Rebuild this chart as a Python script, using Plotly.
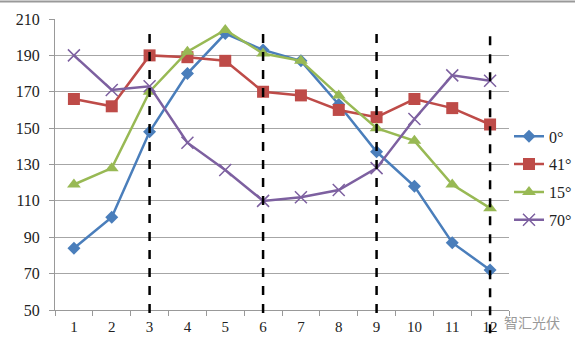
import plotly.graph_objects as go

months = [1, 2, 3, 4, 5, 6, 7, 8, 9, 10, 11, 12]
s0 = [84, 101, 148, 180, 202, 193, 187, 163, 137, 118, 87, 72]
s41 = [166, 162, 190, 189, 187, 170, 168, 160, 156, 166, 161, 152]
s15 = [119, 128, 170, 192, 204, 191, 187, 168, 150, 143, 119, 106]
s70 = [190, 171, 173, 142, 127, 110, 112, 116, 128, 155, 179, 176]
names = ["0°", "41°", "15°", "70°"]
dashed_months = [3, 6, 9, 12]

serif = "Liberation Serif, Times New Roman, serif"

fig = go.Figure()
series = [
    (s0, names[0], "#4A7EBB", dict(symbol="diamond", size=10)),
    (s41, names[1], "#BE4B48", dict(symbol="square", size=12)),
    (s15, names[2], "#98B954", dict(symbol="triangle-up", size=12)),
    (s70, names[3], "#7D60A0", dict(symbol="x-thin-open", size=12, line=dict(width=1.5, color="#7D60A0"))),
]
for i, (vals, nm, col, mk) in enumerate(series):
    mk = dict(mk)
    mk["color"] = col
    fig.add_trace(go.Scatter(x=months, y=vals, name=nm, mode="lines+markers",
                             line=dict(color=col, width=2.5), marker=mk,
                             legendgroup=str(i)))

for m in dashed_months:
    fig.add_shape(type="line", xref="x", yref="paper", x0=m, x1=m,
                  y0=-0.01 if m != 12 else -0.08, y1=0.96,
                  line=dict(color="black", width=2.5, dash="dash"))

fig.add_shape(type="line", xref="paper", yref="paper", x0=-0.2, x1=1.2,
              y0=1.06, y1=1.06, line=dict(color="#999", width=2))

fig.add_annotation(text="智汇光伏", xref="paper", yref="paper", x=1.05, y=-0.04,
                   xanchor="center", yanchor="middle",
                   showarrow=False, font=dict(family="Noto Sans CJK SC", size=14, color="#999"))

fig.update_layout(
    width=575, height=353,
    margin=dict(l=55, r=66, t=19, b=43, autoexpand=False),
    paper_bgcolor="white", plot_bgcolor="white",
    font=dict(family=serif, size=15, color="#222"),
    showlegend=True,
    legend=dict(x=1.0, xanchor="left", y=0.655, yanchor="top",
                font=dict(family=serif, size=16), tracegroupgap=4,
                itemwidth=30, bgcolor="rgba(0,0,0,0)"),
    xaxis=dict(range=[0.5, 12.5], tickvals=months, ticks="", showgrid=False,
               showline=True, linecolor="#999", linewidth=1, zeroline=False,
               ticklabelstandoff=3,
               tickfont=dict(family=serif, size=15),
               minor=dict(tickvals=[x + 0.5 for x in range(0, 13)], ticks="outside",
                          ticklen=5, tickcolor="#999", showgrid=False)),
    yaxis=dict(range=[50, 210], tick0=50, dtick=20, showgrid=True, gridcolor="#a6a6a6",
               gridwidth=1, showline=True, linecolor="#999", linewidth=1,
               ticks="outside", ticklen=5, tickcolor="#999", zeroline=False,
               ticklabelstandoff=6,
               tickfont=dict(family=serif, size=16)),
)

fig.write_html("out.html")
